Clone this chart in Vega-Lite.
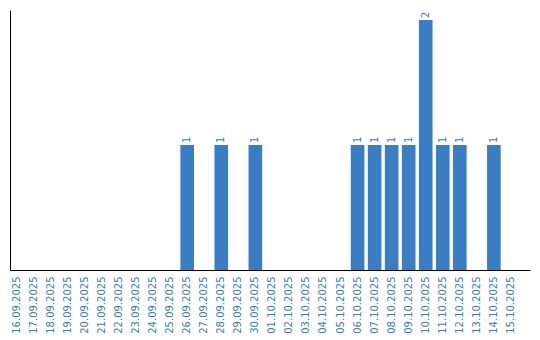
{
  "$schema": "https://vega.github.io/schema/vega-lite/v6.json",
  "autosize": "none",
  "width": 520,
  "height": 260,
  "padding": {"left": 10, "top": 10, "right": 10, "bottom": 70},
  "background": "white",
  "config": {"view": {"stroke": null}, "font": "DejaVu Sans"},
  "data": {"values": [
    {"date": "16.09.2025", "count": 0},
    {"date": "17.09.2025", "count": 0},
    {"date": "18.09.2025", "count": 0},
    {"date": "19.09.2025", "count": 0},
    {"date": "20.09.2025", "count": 0},
    {"date": "21.09.2025", "count": 0},
    {"date": "22.09.2025", "count": 0},
    {"date": "23.09.2025", "count": 0},
    {"date": "24.09.2025", "count": 0},
    {"date": "25.09.2025", "count": 0},
    {"date": "26.09.2025", "count": 1},
    {"date": "27.09.2025", "count": 0},
    {"date": "28.09.2025", "count": 1},
    {"date": "29.09.2025", "count": 0},
    {"date": "30.09.2025", "count": 1},
    {"date": "01.10.2025", "count": 0},
    {"date": "02.10.2025", "count": 0},
    {"date": "03.10.2025", "count": 0},
    {"date": "04.10.2025", "count": 0},
    {"date": "05.10.2025", "count": 0},
    {"date": "06.10.2025", "count": 1},
    {"date": "07.10.2025", "count": 1},
    {"date": "08.10.2025", "count": 1},
    {"date": "09.10.2025", "count": 1},
    {"date": "10.10.2025", "count": 2},
    {"date": "11.10.2025", "count": 1},
    {"date": "12.10.2025", "count": 1},
    {"date": "13.10.2025", "count": 0},
    {"date": "14.10.2025", "count": 1},
    {"date": "15.10.2025", "count": 0}
  ]},
  "encoding": {
    "x": {
      "field": "date", "type": "ordinal", "sort": null,
      "scale": {"paddingInner": 0.2, "paddingOuter": 0.36, "align": 0},
      "axis": {
        "title": null, "labelAngle": -90, "labelAlign": "right", "labelBaseline": "middle",
        "labelColor": "#3a7bbf", "labelFontSize": 10, "labelFont": "DejaVu Sans",
        "ticks": false, "labelPadding": 6, "domainColor": "#000000", "domainWidth": 1,
        "grid": false, "labelOverlap": false
      }
    },
    "y": {
      "field": "count", "type": "quantitative",
      "scale": {"domain": [0, 2.08], "nice": false},
      "axis": {"title": null, "labels": false, "ticks": false, "grid": false, "domainColor": "#000000", "domainWidth": 1}
    }
  },
  "layer": [
    {"mark": {"type": "bar", "color": "#3a7dc2"}},
    {
      "transform": [{"filter": "datum.count > 0"}],
      "mark": {"type": "text", "angle": -90, "align": "left", "baseline": "middle", "dx": 2, "color": "#3a7bbf", "fontSize": 10, "font": "DejaVu Sans"},
      "encoding": {"text": {"field": "count", "type": "quantitative"}}
    }
  ]
}
